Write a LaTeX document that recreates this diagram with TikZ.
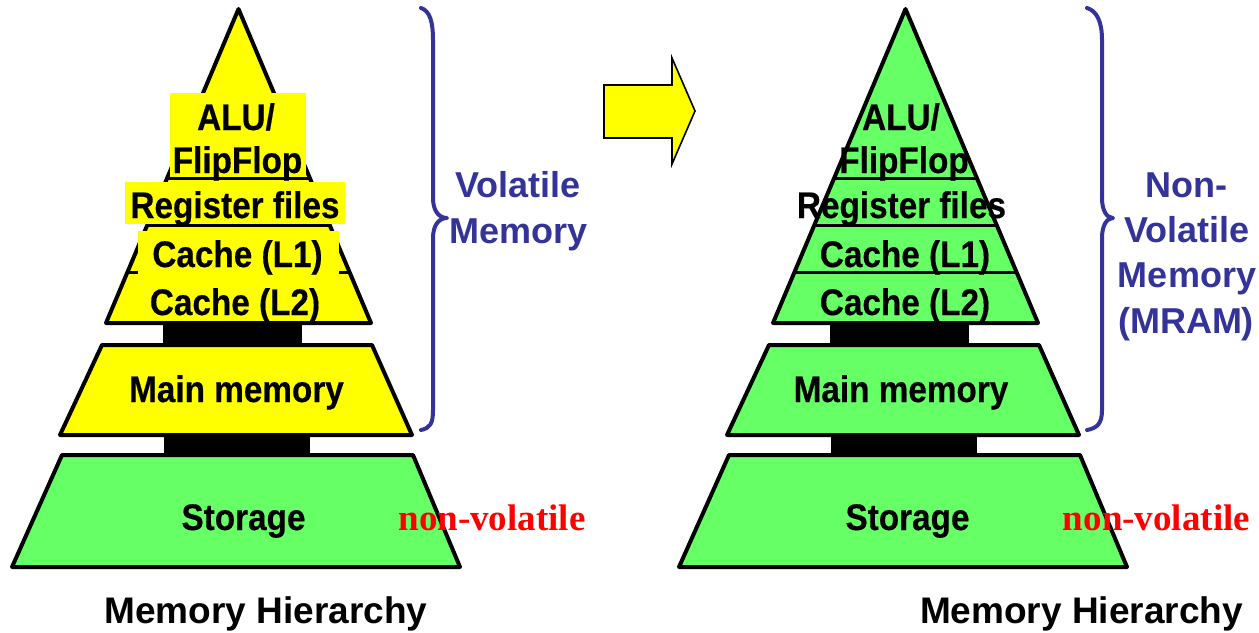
\documentclass[tikz,border=0pt]{standalone}
\usepackage{fontspec}
\newfontfamily\lblfont[FakeStretch=0.9, FakeBold=0.4]{Liberation Sans}
\newfontfamily\bracefont{Liberation Sans}
\newfontfamily\notefont{Liberation Serif}
\definecolor{memgreen}{HTML}{66FF66}
\definecolor{memblue}{HTML}{333399}
\definecolor{memyellow}{HTML}{FFFF00}
\tikzset{
  tier/.style={draw=black, line width=3pt, line join=round},
  band/.style={draw=black, line width=2.25pt},
  neck/.style={fill=black},
  hilite/.style={fill=memyellow},
  lbl/.style={font=\lblfont\bfseries\fontsize{27.75}{33}\selectfont, inner sep=0pt, anchor=base},
  caption/.style={font=\bracefont\bfseries\fontsize{27.75}{33}\selectfont, inner sep=0pt, anchor=base},
  bracetxt/.style={text=memblue, font=\bracefont\bfseries\fontsize{27}{34}\selectfont, inner sep=0pt, anchor=base},
  note/.style={text=red, font=\notefont\bfseries\fontsize{27.75}{33}\selectfont, inner sep=0pt, anchor=base},
  brace/.style={draw=memblue, line width=3pt, line cap=round, line join=round},
  bigarrow/.style={draw=black, line width=1.2pt, fill=memyellow, line join=miter},
  pics/tower/.style={code={
    % upper part: registers and caches
    \filldraw[tier, fill=#1] (238.5,9) -- (371,323) -- (106,323) -- cycle;
    \draw[band] (167.2,178) -- (309.8,178);
    \draw[band] (147.3,225) -- (329.7,225);
    \draw[band] (127.5,272) -- (349.5,272);
    % links between levels
    \fill[neck] (163,322) rectangle (302,346);
    \fill[neck] (164,434) rectangle (310,456);
    % main memory
    \filldraw[tier, fill=#1] (102,345) -- (372,345) -- (412,435) -- (60,435) -- cycle;
    % storage
    \filldraw[tier, fill=memgreen] (62,455) -- (413,455) -- (460,567) -- (12,567) -- cycle;
  }}
}
\begin{document}
\begin{tikzpicture}[x=0.75pt, y=-0.75pt]
\useasboundingbox (0,0) rectangle (1259,632);

% the two towers
\pic at (0,0) {tower=memyellow};
\pic at (667,0) {tower=memgreen};

% highlight boxes behind the left labels
\fill[hilite] (170,93) rectangle (306,176.5);
\fill[hilite] (125,182) rectangle (345,223.5);
\fill[hilite] (138,231) rectangle (339,276);

% left tower labels
\node[lbl] (aluL)  at (236,130)   {ALU/};
\node[lbl] (ffL)   at (237.5,173) {FlipFlop};
\node[lbl] (regL)  at (235,218)   {Register files};
\node[lbl] (l1L)   at (237.5,267) {Cache (L1)};
\node[lbl] (l2L)   at (235,315)   {Cache (L2)};
\node[lbl] (mainL) at (236.5,402) {Main memory};
\node[lbl] (stoL)  at (243.5,530) {Storage};
\node[caption] (capL) at (266,623) {Memory Hierarchy};
\node[note] (nvL) at (492,530) {non-volatile};

% right tower labels
\node[lbl] (aluR)  at (901,130)   {ALU/};
\node[lbl] (ffR)   at (904,173)   {FlipFlop};
\node[lbl] (regR)  at (901.5,218) {Register files};
\node[lbl] (l1R)   at (905,267)   {Cache (L1)};
\node[lbl] (l2R)   at (905,315)   {Cache (L2)};
\node[lbl] (mainR) at (901,402)   {Main memory};
\node[lbl] (stoR)  at (907.5,530) {Storage};
\node[caption] (capR) at (1081.5,623) {Memory Hierarchy};
\node[note] (nvR) at (1156.5,530) {non-volatile};

% left brace and its label
\draw[brace] (421,8) .. controls (430,11) and (433,22) .. (433,40) -- (433,198)
  .. controls (433,211) and (439,218) .. (447,218)
  .. controls (439,218) and (433,225) .. (433,238) -- (433,410)
  .. controls (433,424) and (430,428) .. (421,430);
\node[bracetxt] (volA) at (518,197) {Volatile};
\node[bracetxt] (volB) at (519,243) {Memory};

% right brace and its label
\draw[brace] (1087,8) .. controls (1097,11) and (1102,22) .. (1102,40) -- (1102,198)
  .. controls (1102,211) and (1107,218) .. (1113,218)
  .. controls (1107,218) and (1102,225) .. (1102,238) -- (1102,410)
  .. controls (1102,424) and (1097,428) .. (1087,430);
\node[bracetxt] (nvA) at (1186,197) {Non-};
\node[bracetxt] (nvB) at (1187,242) {Volatile};
\node[bracetxt] (nvC) at (1187,287) {Memory};
\node[bracetxt] (nvD) at (1186,333) {(MRAM)};

% block arrow between the towers
\filldraw[bigarrow] (604,85) -- (672,85) -- (672,58) -- (695,111) -- (672,164)
  -- (672,138) -- (604,138) -- cycle;
\end{tikzpicture}
\end{document}
